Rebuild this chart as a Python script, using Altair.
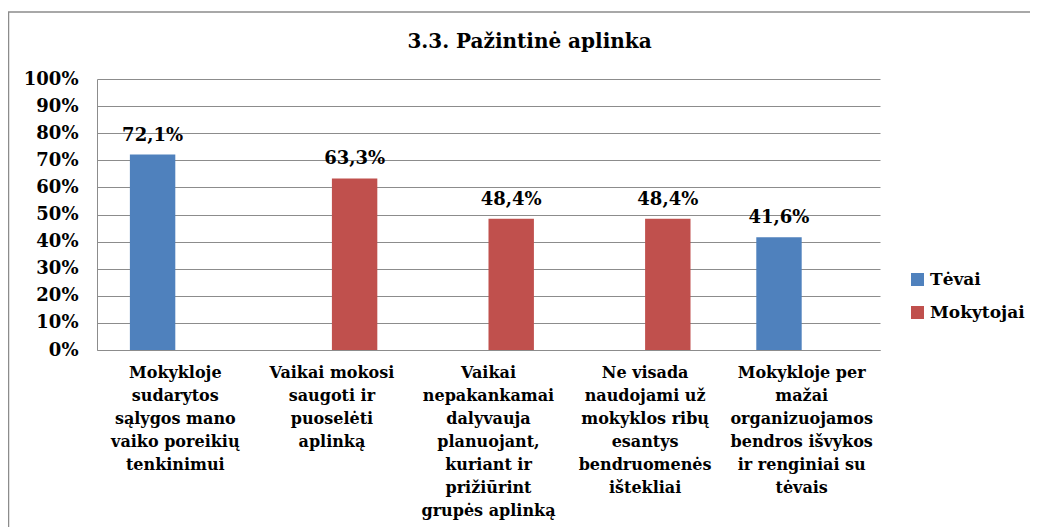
import altair as alt
import pandas as pd

categories = [
    "Mokykloje\nsudarytos\nsąlygos mano\nvaiko poreikių\ntenkinimui",
    "Vaikai mokosi\nsaugoti ir\npuoselėti\naplinką",
    "Vaikai\nnepakankamai\ndalyvauja\nplanuojant,\nkuriant ir\nprižiūrint\ngrupės aplinką",
    "Ne visada\nnaudojami už\nmokyklos ribų\nesantys\nbendruomenės\ništekliai",
    "Mokykloje per\nmažai\norganizuojamos\nbendros išvykos\nir renginiai su\ntėvais",
]
series = ["Tėvai", "Mokytojai"]
bar_category = [categories[0], categories[1], categories[2], categories[3], categories[4]]
bar_series = ["Tėvai", "Mokytojai", "Mokytojai", "Mokytojai", "Tėvai"]
bar_values = [72.1, 63.3, 48.4, 48.4, 41.6]
value_labels = ["72,1%", "63,3%", "48,4%", "48,4%", "41,6%"]
colors = ["#4F81BD", "#C0504D"]

df = pd.DataFrame({
    "cat": bar_category,
    "series": bar_series,
    "value": [v / 100 for v in bar_values],
    "label": value_labels,
})

FONT = "DejaVu Serif"

x_enc = alt.X(
    "cat:N",
    sort=categories,
    scale=alt.Scale(domain=categories, paddingInner=0.42, paddingOuter=0.21),
    axis=alt.Axis(
        title=None, labelAngle=0, labelExpr="split(datum.label, '\\n')",
        labelFont=FONT, labelFontWeight="bold", labelFontSize=16,
        labelColor="black", labelLineHeight=23, labelPadding=14,
        ticks=False, domainColor="#8c8c8c", labelLimit=200,
    ),
)
xoff = alt.XOffset("series:N", scale=alt.Scale(domain=series, paddingInner=0, paddingOuter=0))
y_enc = alt.Y(
    "value:Q",
    scale=alt.Scale(domain=[0, 1]),
    axis=alt.Axis(
        title=None, format=".0%", values=[i / 10 for i in range(11)],
        labelFont=FONT, labelFontWeight="bold", labelFontSize=18,
        labelColor="black", labelPadding=19, ticks=False,
        grid=True, gridColor="#8c8c8c", domainColor="#8c8c8c",
    ),
)

bars = alt.Chart(df).mark_bar().encode(
    x=x_enc, xOffset=xoff, y=y_enc,
    color=alt.Color(
        "series:N",
        scale=alt.Scale(domain=series, range=colors),
        legend=alt.Legend(
            title=None, orient="none", legendX=812, legendY=192,
            symbolType="square", symbolSize=169, symbolStrokeWidth=0,
            labelFont=FONT, labelFontWeight="bold", labelFontSize=17,
            labelColor="black", rowPadding=15, labelOffset=4,
        ),
    ),
)

texts = alt.Chart(df).mark_text(
    baseline="alphabetic", dy=-14, font=FONT, fontWeight="bold", fontSize=18, color="black"
).encode(x=x_enc, xOffset=xoff, y=y_enc, text="label:N")

border = alt.Chart(pd.DataFrame({"a": [0]})).mark_rect(
    fill=None, stroke="#8c8c8c", strokeWidth=1.5
).encode(
    x=alt.value(-88.5), x2=alt.value(944), y=alt.value(-67), y2=alt.value(470)
)

chart = alt.layer(border, bars, texts).properties(
    width=783, height=271,
    title=alt.Title(
        "3.3. Pažintinė aplinka", font=FONT, fontSize=20, fontWeight="bold",
        color="black", anchor="middle", frame="group", offset=-41, dx=41,
    ),
    autosize=alt.AutoSizeParams(type="none"),
    padding={"left": 89, "top": 71, "right": 150, "bottom": 177},
).configure_view(stroke=None)

chart.save("out.html", embed_options={"renderer": "svg", "actions": False})
